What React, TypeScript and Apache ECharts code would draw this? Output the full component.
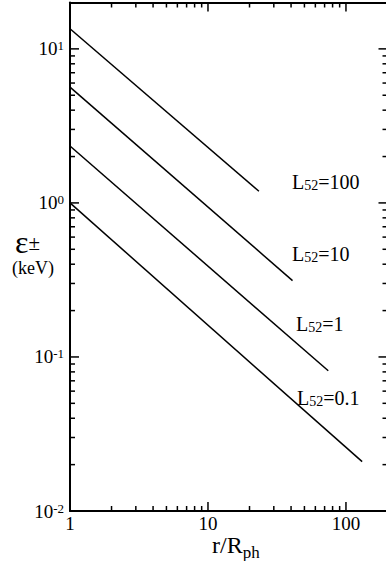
import React, { useEffect, useRef } from "react";
import * as echarts from "echarts";

// Axis ranges
const xRange = [1, 200];
const yRange = [0.01, 20];

// Tick positions
const xMajor = [1, 10, 100];
const yMajor = [0.01, 0.1, 1, 10];
const minorMultipliers = [2, 3, 4, 5, 6, 7, 8, 9];

// Series: r/Rph (x) and energy in keV (y) for each luminosity
const seriesNames = ["L52=100", "L52=10", "L52=1", "L52=0.1"];
const rL100 = [1, 23.4];
const eL100 = [13.5, 1.19];
const rL10 = [1, 41];
const eL10 = [5.65, 0.313];
const rL1 = [1, 74.4];
const eL1 = [2.34, 0.0813];
const rL01 = [1, 131];
const eL01 = [1.0, 0.0209];

const FONT = "Liberation Serif";

function zip(xs: number[], ys: number[]) {
  return xs.map((x, i) => [x, ys[i]]);
}

function buildTicks() {
  // [x, y, side, major] side: 0 bottom, 1 top, 2 left, 3 right
  const out: number[][] = [];
  const xs: [number, number][] = [];
  xMajor.forEach((d) => {
    xs.push([d, 1]);
    minorMultipliers.forEach((m) => {
      const v = d * m;
      if (v < xRange[1]) xs.push([v, 0]);
    });
  });
  const ys: [number, number][] = [];
  yMajor.forEach((d) => {
    ys.push([d, 1]);
    minorMultipliers.forEach((m) => {
      const v = d * m;
      if (v < yRange[1]) ys.push([v, 0]);
    });
  });
  xs.forEach(([v, mj]) => {
    out.push([v, yRange[0], 0, mj]);
    out.push([v, yRange[1], 1, mj]);
  });
  ys.forEach(([v, mj]) => {
    out.push([xRange[0], v, 2, mj]);
    out.push([xRange[1], v, 3, mj]);
  });
  return out;
}

const labelRich = {
  L: { fontFamily: FONT, fontSize: 20, fill: "#000" },
  s: { fontFamily: FONT, fontSize: 14, fill: "#000", verticalAlign: "bottom" },
};

const isDecade = (v: number) => {
  const l = Math.log10(v);
  return Math.abs(l - Math.round(l)) < 1e-6;
};

const plainAxis = {
  axisLine: { show: true, lineStyle: { color: "#000", width: 2 } },
  axisTick: { show: false },
  splitLine: { show: false },
};

export default function App() {
  const ref = useRef<HTMLDivElement>(null);
  useEffect(() => {
    if (!ref.current) return;
    const chart = echarts.init(ref.current, null, { renderer: "svg" });
    const lineData = [zip(rL100, eL100), zip(rL10, eL10), zip(rL1, eL1), zip(rL01, eL01)];
    chart.setOption({
      animation: false,
      grid: {
        left: 70,
        top: 2.5,
        right: -1.5,
        bottom: 50,
        containLabel: false,
        outerBoundsMode: "none",
      },
      xAxis: [
        {
          type: "log",
          min: xRange[0],
          max: xRange[1],
          position: "bottom",
          ...plainAxis,
          axisLabel: {
            color: "#000",
            fontFamily: FONT,
            fontSize: 19,
            margin: 3,
            formatter: (v: number) => (isDecade(v) ? String(Math.round(v)) : ""),
          },
        },
        {
          type: "log",
          min: xRange[0],
          max: xRange[1],
          position: "top",
          ...plainAxis,
          axisLabel: { show: false },
        },
      ],
      yAxis: [
        {
          type: "log",
          min: yRange[0],
          max: yRange[1],
          position: "left",
          ...plainAxis,
          axisLabel: {
            margin: 6,
            formatter: (v: number) =>
              isDecade(v) ? `{n|10}{s|${Math.round(Math.log10(v))}}` : "",
            rich: {
              n: { fontFamily: FONT, fontSize: 19, color: "#000" },
              s: { fontFamily: FONT, fontSize: 13, color: "#000", verticalAlign: "top" },
            },
          },
        },
        {
          type: "log",
          min: yRange[0],
          max: yRange[1],
          position: "right",
          ...plainAxis,
          axisLabel: { show: false },
        },
      ],
      series: lineData.map((d, i) => ({
        name: seriesNames[i],
        type: "line",
        data: d,
        symbol: "none",
        lineStyle: { color: "#000", width: 1.5 },
      })),
    });

    // Ticks on all four sides, placed through the axes' own scales
    const tickEls = buildTicks().map(([x, y, side, major]) => {
      const p = chart.convertToPixel({ gridIndex: 0 }, [x, y]) as number[];
      const len = major ? 9 : 5;
      let x2 = p[0];
      let y2 = p[1];
      if (side === 0) y2 = p[1] - len;
      else if (side === 1) y2 = p[1] + len;
      else if (side === 2) x2 = p[0] + len;
      else x2 = p[0] - len;
      return {
        type: "line",
        shape: { x1: p[0], y1: p[1], x2, y2 },
        style: { stroke: "#000", lineWidth: 1.5 },
      };
    });

    const texts = [
      { type: "text", left: 292, top: 172, style: { text: "{L|L}{s|52}{L|=100}", rich: labelRich } },
      { type: "text", left: 292, top: 244, style: { text: "{L|L}{s|52}{L|=10}", rich: labelRich } },
      { type: "text", left: 296, top: 314, style: { text: "{L|L}{s|52}{L|=1}", rich: labelRich } },
      { type: "text", left: 297, top: 388, style: { text: "{L|L}{s|52}{L|=0.1}", rich: labelRich } },
      {
        type: "text",
        left: 15,
        top: 226,
        style: {
          text: "{e|ε}{p|±}",
          rich: {
            e: { fontFamily: FONT, fontSize: 32, lineHeight: 22, fill: "#000" },
            p: { fontFamily: FONT, fontSize: 21, lineHeight: 18, fill: "#000", verticalAlign: "bottom" },
          },
        },
      },
      {
        type: "text",
        left: 12,
        top: 259,
        style: { text: "(keV)", fontFamily: FONT, fontSize: 18, lineHeight: 18, fill: "#000" },
      },
      {
        type: "text",
        left: 212,
        top: 533,
        style: {
          text: "{a|r/R}{b|ph}",
          rich: {
            a: { fontFamily: FONT, fontSize: 24, fill: "#000" },
            b: { fontFamily: FONT, fontSize: 17, fill: "#000", verticalAlign: "bottom", padding: [0, 0, -4, 0] },
          },
        },
      },
    ];

    chart.setOption({ graphic: [...tickEls, ...texts] });
    return () => chart.dispose();
  }, []);
  return (
    <div
      ref={ref}
      style={{ position: "absolute", left: 0, top: 0, width: 386, height: 561 }}
    />
  );
}
